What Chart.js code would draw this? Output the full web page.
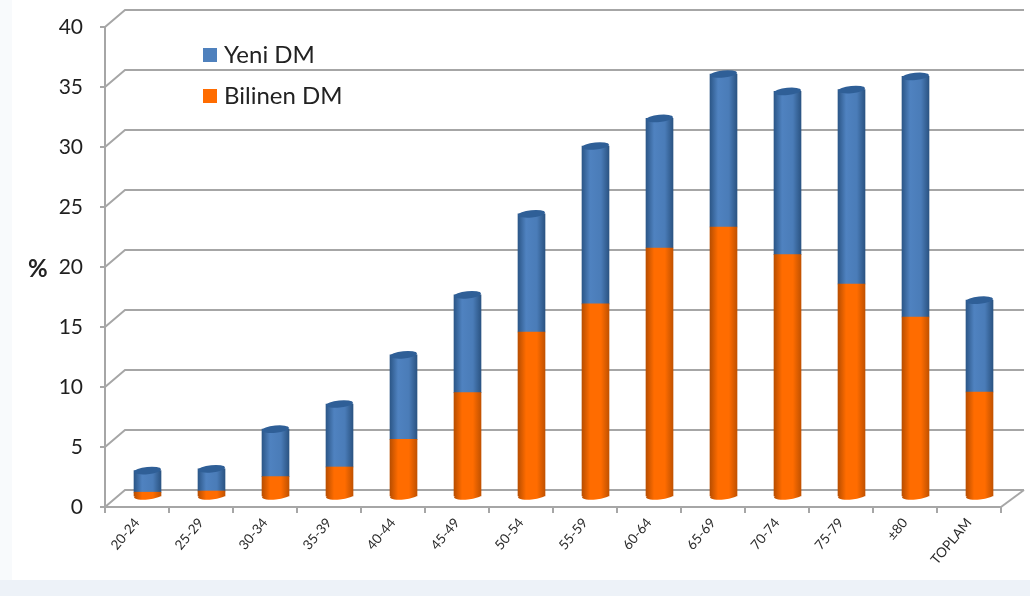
<!DOCTYPE html>
<html><head><meta charset="utf-8">
<style>
html,body{margin:0;padding:0;background:#fff}
#wrap{position:relative;width:1030px;height:596px;background:#edf2f8;overflow:hidden}
#wrap:before{content:"";position:absolute;left:0;top:0;width:12px;height:580px;background:#f8fafc}
#inner{position:absolute;left:12px;top:0;width:1018px;height:580px;background:#fff}
canvas{position:absolute;left:0;top:0;filter:blur(0.45px)}
</style>
<script src="https://cdn.jsdelivr.net/npm/chart.js@4"></script>
</head><body>
<div id="wrap"><div id="inner"></div><canvas id="c" width="1030" height="596"></canvas></div>
<script>
const categories = ['20-24','25-29','30-34','35-39','40-44','45-49','50-54','55-59','60-64','65-69','70-74','75-79','±80','TOPLAM'];
const bilinenDM = [0.4,0.5,1.7,2.5,4.8,8.7,13.75,16.1,20.75,22.5,20.2,17.75,15,8.75];
const yeniDM = [1.8,1.85,3.95,5.25,7.05,8.15,9.85,13.15,10.8,12.75,13.6,16.2,20.05,7.65];
const yTicks = [0,5,10,15,20,25,30,35,40];

const wallDx = 20, wallDy = -17, barDx = 10.5, barDy = -10;
const axisColor = '#a6a6a6';
const palette = {
  orange: ['#b94e00','#ff6c00','#ff6c00','#c25200'],
  blue: ['#2c5788','#4f82c0','#4a7cb8','#2b5483']
};
function barFill(stops){
  return function(ctx){
    const c = ctx.chart;
    const sx = c.scales && c.scales.x;
    if(!sx || ctx.dataIndex === undefined) return stops[1];
    const cx = sx.getPixelForValue(ctx.dataIndex);
    if(!Number.isFinite(cx)) return stops[1];
    const g = c.ctx.createLinearGradient(cx-13.5,0,cx+13.5,0);
    g.addColorStop(0,stops[0]); g.addColorStop(0.3,stops[1]);
    g.addColorStop(0.7,stops[2]); g.addColorStop(1,stops[3]);
    return g;
  };
}
function ellipse(g,x,y,w,fill){
  g.beginPath();
  g.ellipse(x,y,w/2,3.6,-0.1,0,Math.PI*2);
  g.fillStyle=fill; g.fill();
}
const scene = {
  id:'scene',
  beforeDraw(chart){
    const g=chart.ctx, ya=chart.scales.y, xa=chart.scales.x;
    g.save();
    g.strokeStyle=axisColor; g.lineWidth=2;
    const L=xa.left, R=xa.right;
    yTicks.forEach(v=>{
      const y=ya.getPixelForValue(v);
      g.beginPath();
      g.moveTo(L,y); g.lineTo(L+wallDx,y+wallDy); g.lineTo(R+wallDx+3,y+wallDy);
      g.stroke();
    });
    const y0=ya.getPixelForValue(0);
    g.beginPath(); g.moveTo(R,y0); g.lineTo(R+wallDx+3,y0+wallDy); g.stroke();
    g.restore();
  },
  beforeDatasetsDraw(chart){ chart.ctx.save(); chart.ctx.translate(barDx,barDy); },
  beforeDatasetDraw(chart,args){
    const g=chart.ctx;
    const meta=chart.getDatasetMeta(args.index);
    meta.data.forEach(b=>{
      ellipse(g,b.x,b.base,b.width,b.options.backgroundColor);
    });
  },
  afterDatasetDraw(chart,args){
    if(args.index!==1) return;
    const g=chart.ctx;
    chart.getDatasetMeta(1).data.forEach(b=>{
      ellipse(g,b.x,b.y,b.width,'#2f5f97');
    });
  },
  afterDatasetsDraw(chart){ chart.ctx.restore(); },
  afterDraw(chart){
    const g=chart.ctx;
    g.save();
    g.textBaseline='middle'; g.textAlign='left';
    const rows=[[1,55],[0,96]];
    rows.forEach(([i,y])=>{
      g.fillStyle=i===1?'#4f81bd':'#ff6c00';
      g.fillRect(203,y-7,14,14);
      g.fillStyle='#222';
      g.font='24px Lato';
      g.fillText(chart.data.datasets[i].label,224,y);
    });
    g.font='bold 24px Lato'; g.fillStyle='#222';
    g.fillText('%',28,269);
    g.restore();
  }
};
new Chart(document.getElementById('c'),{
  type:'bar',
  data:{labels:categories,datasets:[
    {label:'Bilinen DM',data:bilinenDM,backgroundColor:barFill(palette.orange),borderWidth:0,barThickness:27,clip:false},
    {label:'Yeni DM',data:yeniDM,backgroundColor:barFill(palette.blue),borderWidth:0,barThickness:27,clip:false}
  ]},
  options:{
    responsive:false,animation:false,devicePixelRatio:1,
    layout:{padding:{top:27,right:29,left:0,bottom:0}},
    plugins:{legend:{display:false},title:{display:false},tooltip:{enabled:false}},
    scales:{
      x:{stacked:true,
        afterFit(s){s.height=596-507;},
        grid:{display:true,drawOnChartArea:false,drawTicks:true,tickLength:6,color:axisColor,lineWidth:2,offset:true},
        border:{display:true,color:axisColor,width:2},
        ticks:{autoSkip:false,maxRotation:50,minRotation:50,padding:2,color:'#2a2a2a',font:{family:'Lato',size:13.5}}
      },
      y:{stacked:true,min:0,max:40,
        afterFit(s){s.width=105;s.paddingTop=0;s.paddingBottom=0;},
        afterBuildTicks(s){s.ticks=yTicks.map(v=>({value:v}));},
        grid:{display:true,drawOnChartArea:false,drawTicks:true,tickLength:5,color:axisColor,lineWidth:2},
        border:{display:true,color:axisColor,width:2},
        ticks:{padding:17,color:'#1f1f1f',font:{family:'Lato',size:21}}
      }
    }
  },
  plugins:[scene]
});
</script>
</body></html>
